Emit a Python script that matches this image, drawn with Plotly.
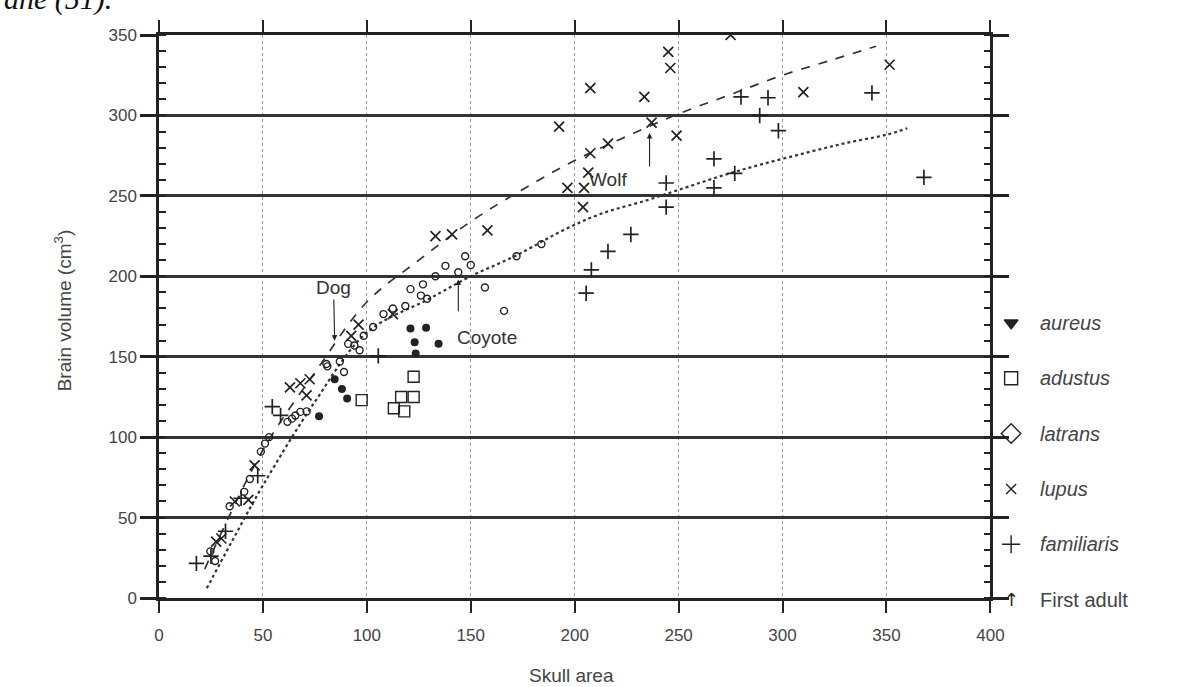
import plotly.graph_objects as go

# ---------------- data ----------------
aureus_x = [77, 84.5, 88, 90.5, 121, 128.5, 123, 123.5, 134.5]
aureus_y = [113, 136, 130, 124, 167.5, 168, 159, 152, 158]

adustus_x = [97.5, 122.5, 116.5, 122.5, 113, 118]
adustus_y = [123, 137.5, 125, 125, 118, 116]

latrans_x = [24.7, 27, 34, 41, 43.7, 49, 51, 53, 61.8, 64, 65.6, 68, 71,
             80.5, 87, 89, 81, 91, 94, 96.5, 98.5, 103, 108, 112.5, 118.5,
             121, 126, 127, 129, 133, 137.8, 144, 147.3, 150, 156.8, 166,
             172, 184]
latrans_y = [29, 23, 57, 66, 74, 91, 96, 100, 109.5, 111.5, 113.5, 115.7, 116,
             145.5, 147, 140.5, 144, 158, 157, 154, 163, 168.5, 176.5, 180, 181.5,
             192, 188, 195, 186, 200, 206.5, 202.5, 212.5, 207, 193, 178.5,
             212.5, 220]

lupus_x = [275, 245, 246, 207.5, 233.5, 310, 351.5, 192.5, 237, 249, 216,
           207.5, 206.5, 196.5, 204.5, 204, 133, 141, 158, 92.5, 96, 112.5,
           63, 68, 71, 72.5, 27.5, 30, 36.5, 43, 46]
lupus_y = [350, 339.5, 329.5, 317, 311.5, 314.5, 331.5, 293, 295.5, 287.5, 282.5,
           276.5, 264.5, 255, 255, 243, 225, 226, 228.5, 163, 170, 176.5,
           131, 133.5, 126, 136, 35, 37, 60, 61, 82.5]

familiaris_x = [18, 25, 32, 39.5, 47.5, 54.5, 58.5, 105.5, 280, 293, 343, 289,
                298, 267, 277, 368, 244, 267, 244, 227, 216, 208, 205.5]
familiaris_y = [21.5, 26, 41.5, 62, 76, 119, 113.5, 150.5, 311.5, 311, 314, 300,
                290.5, 273, 264, 261.5, 258, 255, 243, 226, 215.5, 204, 189.5]

# fitted curves as drawn in the reference
dashed_x = [22, 50, 76, 100, 125, 150, 175, 200, 225, 250, 275, 300, 325, 345]
dashed_y = [18, 92, 142, 184, 210, 234, 254, 272, 287, 301, 313, 325, 335, 343]

dotted_x = [23, 35, 50, 75, 100, 130, 150, 172, 195, 213, 234, 253, 272, 291,
            312, 331, 350, 360]
dotted_y = [6, 35, 70, 122, 165, 186, 200, 213, 229, 239, 247, 255, 263, 270,
            277, 283, 288, 292]

x_ticks = [0, 50, 100, 150, 200, 250, 300, 350, 400]
y_ticks = [0, 50, 100, 150, 200, 250, 300, 350]

legend_labels = ["aureus", "adustus", "latrans", "lupus", "familiaris", "First adult"]

# ---------------- styling ----------------
INK = "#222222"
TXT = "#444444"
FONT = "Liberation Sans"

W, H = 1178, 687
L, T, B = 159, 35, 89
RIGHT_EDGE = 1002
paper_w = W - L
paper_h = H - T - B
main_frac = (RIGHT_EDGE - L) / paper_w


def px_to_paper_x(px):
    return (px - L) / paper_w


def py_to_paper_y(py):
    return (H - B - py) / paper_h


fig = go.Figure()


def add_curve(xs, ys, dash, width):
    fig.add_trace(go.Scatter(x=xs, y=ys, mode="lines", showlegend=False,
                             line=dict(color="#333333", dash=dash, width=width,
                                       shape="spline")))


add_curve(dashed_x, dashed_y, "dash", 1.7)
add_curve(dotted_x, dotted_y, "dot", 2.2)


def add_pts(xs, ys, symbol, size, lw=1.3):
    fig.add_trace(go.Scatter(x=xs, y=ys, mode="markers", showlegend=False,
                             marker=dict(symbol=symbol, size=size, color=INK,
                                         line=dict(color=INK, width=lw))))


add_pts(latrans_x, latrans_y, "circle-open", 7, 1.4)
add_pts(adustus_x, adustus_y, "square-open", 11, 1.4)
add_pts(lupus_x, lupus_y, "x-thin-open", 10, 1.7)
add_pts(familiaris_x, familiaris_y, "cross-thin-open", 11, 1.7)
add_pts(aureus_x, aureus_y, "circle", 8, 0)

# ---------------- legend (drawn in a side panel axis) ----------------
leg_symbols = ["triangle-down", "square-open", "diamond-open", "x-thin-open", "cross-thin-open"]
leg_sizes = [12, 13, 15, 10, 13]
leg_top = 171
leg_step = 34.4
leg_y = [leg_top - i * leg_step for i in range(len(legend_labels))]
for i, sym in enumerate(leg_symbols):
    fig.add_trace(go.Scatter(x=[21], y=[leg_y[i]], mode="markers", showlegend=False,
                             xaxis="x2", yaxis="y2", cliponaxis=False,
                             marker=dict(symbol=sym, size=leg_sizes[i], color=INK,
                                         line=dict(color=INK, width=1.4))))
annotations = []
for i, lab in enumerate(legend_labels):
    txt = lab if lab == "First adult" else "<i>%s</i>" % lab
    annotations.append(dict(x=px_to_paper_x(1050), y=leg_y[i] / 350, xref="paper", yref="paper",
                            text=txt, showarrow=False, xanchor="left", yanchor="middle",
                            font=dict(family=FONT, size=20, color=TXT)))
annotations.append(dict(x=px_to_paper_x(1023), y=leg_y[-1] / 350, xref="paper", yref="paper",
                        text="↑", showarrow=False, xanchor="center", yanchor="middle",
                        font=dict(family="DejaVu Sans", size=18, color=INK)))

# ---------------- labels / arrows in plot ----------------
annotations += [
    dict(x=84.5, y=160, ax=84, ay=193, axref="x", ayref="y", xref="x", yref="y",
         text="Dog", showarrow=True, arrowhead=2, arrowsize=1, arrowwidth=1.1,
         arrowcolor=INK, font=dict(family=FONT, size=19, color="#333")),
    dict(x=158, y=162, xref="x", yref="y", text="Coyote", showarrow=False,
         font=dict(family=FONT, size=19, color="#333")),
    dict(x=144, y=198, ax=144, ay=172, axref="x", ayref="y", xref="x", yref="y",
         text=" ", showarrow=True, arrowhead=2, arrowsize=1, arrowwidth=1.1,
         arrowcolor=INK),
    dict(x=216, y=260, xref="x", yref="y", text="Wolf", showarrow=False,
         font=dict(family=FONT, size=19, color="#333")),
    dict(x=236, y=289, ax=236, ay=262, axref="x", ayref="y", xref="x", yref="y",
         text=" ", showarrow=True, arrowhead=2, arrowsize=1, arrowwidth=1.1,
         arrowcolor=INK),
    # axis titles
    dict(x=px_to_paper_x(62), y=py_to_paper_y(310), xref="paper", yref="paper",
         xanchor="center", yanchor="middle",
         text="Brain volume (cm<sup>3</sup>)", textangle=-90, showarrow=False,
         font=dict(family=FONT, size=19, color=TXT)),
    dict(x=px_to_paper_x(577), y=py_to_paper_y(676), xref="paper", yref="paper",
         xanchor="center", yanchor="middle",
         text="Skull area", showarrow=False, font=dict(family=FONT, size=19, color=TXT)),
    # clipped caption fragment from the scanned page
    dict(x=px_to_paper_x(0), y=1.03, xref="paper", yref="paper", text="<i>ane (51).</i>",
         showarrow=False, xanchor="left", yanchor="bottom",
         font=dict(family="Liberation Serif", size=30, color="#111")),
]

fig.update_layout(
    width=W, height=H,
    margin=dict(l=L, r=0, t=T, b=B),
    paper_bgcolor="white", plot_bgcolor="white",
    showlegend=False,
    annotations=annotations,
    xaxis=dict(domain=[0, main_frac], range=[0, 400], tickvals=x_ticks,
               showgrid=True, gridcolor="#9a9a9a", griddash="dot", gridwidth=1,
               zeroline=False, showline=True, linecolor=INK, linewidth=2.5,
               mirror="ticks", ticks="outside", ticklen=12, tickwidth=2,
               tickcolor=INK, ticklabelstandoff=8,
               tickfont=dict(family=FONT, size=17, color=TXT)),
    yaxis=dict(range=[0, 350], tickvals=y_ticks,
               showgrid=True, gridcolor="#333333", gridwidth=2.8,
               zeroline=False, showline=True, linecolor=INK, linewidth=2.5,
               mirror="ticks", ticks="outside", ticklen=16, tickwidth=2.8,
               tickcolor=INK, tickfont=dict(family=FONT, size=17, color=TXT),
               minor=dict(dtick=10, ticks="inside", ticklen=7, tickwidth=2,
                          tickcolor=INK, showgrid=False)),
    xaxis2=dict(domain=[main_frac, 1], range=[0, W - RIGHT_EDGE], visible=False,
                anchor="y2"),
    yaxis2=dict(range=[0, 350], visible=False, anchor="x2"),
)

fig.write_html("out.html")
